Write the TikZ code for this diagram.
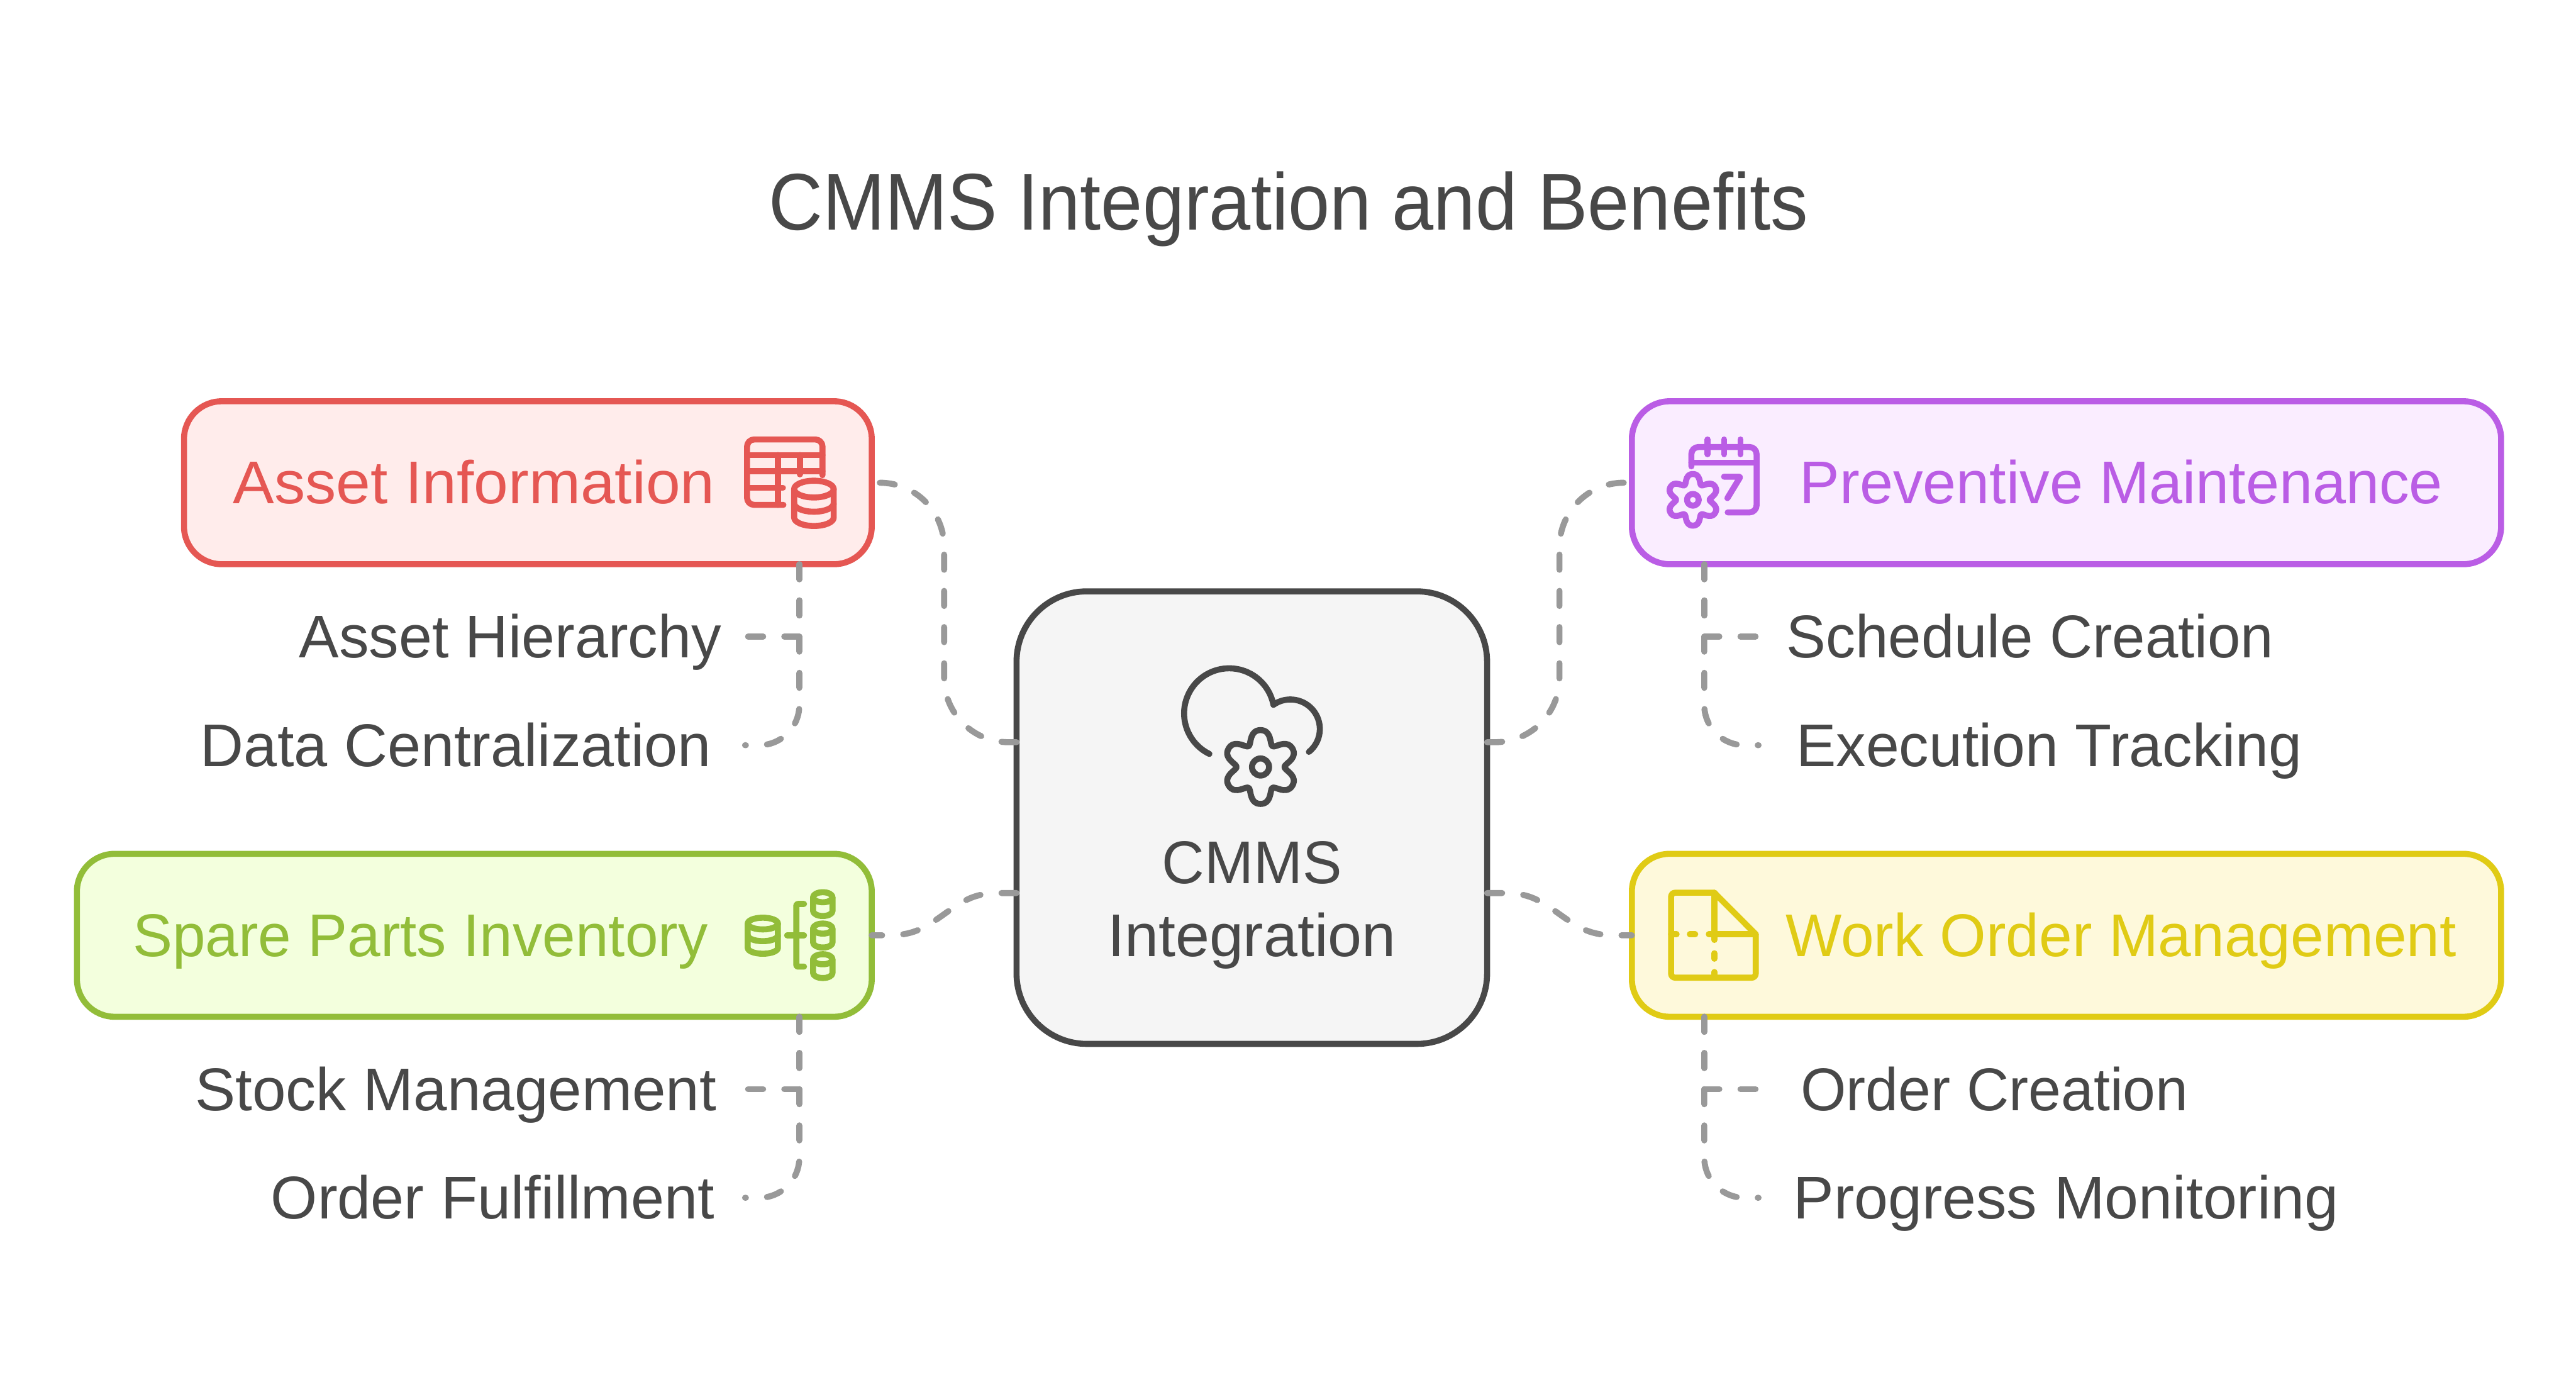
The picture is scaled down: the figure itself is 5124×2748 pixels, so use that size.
\documentclass[tikz,border=0pt]{standalone}
\usepackage{fontspec}
\usepackage{graphicx}
\setmainfont{Liberation Sans}
\definecolor{ink}{HTML}{484848}
\definecolor{dashgray}{HTML}{999999}
\definecolor{redS}{HTML}{E55753}
\definecolor{redF}{HTML}{FFECEB}
\definecolor{purS}{HTML}{BA5DE5}
\definecolor{purF}{HTML}{FAEDFF}
\definecolor{grnS}{HTML}{92BD39}
\definecolor{grnF}{HTML}{F3FFDD}
\definecolor{ylwS}{HTML}{E0CB15}
\definecolor{ylwF}{HTML}{FEF9DB}
\definecolor{cenF}{HTML}{F5F5F5}
\newcommand\tw[2]{\resizebox{#1pt}{\height}{#2}}
\newcommand\gearicon[3]{%
  \draw plot[smooth cycle,samples=120,domain=0:357,variable=\t]
    ({#1+#3*(131.5-27*cos(6*\t)-4.5*cos(12*\t))*cos(\t)},{#2+#3*(131.5-27*cos(6*\t)-4.5*cos(12*\t))*sin(\t)});}
\newcommand\cyl[6]{% cx, top centre y, rx, ry, bowl ys (list), body end
  \draw (#1,#2) ellipse [x radius=#3,y radius=#4];
  \draw ({#1-#3},#2) -- ({#1-#3},#6) arc[start angle=180,end angle=0,x radius=#3,y radius=#4] -- ({#1+#3},#2);
  \foreach \yy in {#5} {\draw ({#1-#3},\yy) arc[start angle=180,end angle=0,x radius=#3,y radius=#4];}
}
\tikzset{
  boxnode/.style={draw,rectangle,rounded corners=75pt,line width=12pt,inner sep=0pt,outer sep=0pt,minimum height=324pt},
  conn/.style={draw=dashgray,line width=12pt,line cap=round,dash pattern=on 30pt off 42pt},
  lbl/.style={anchor=base west,inner sep=0pt,outer sep=0pt,font=\fontsize{120}{144}\selectfont},
  iconline/.style={line width=12pt,line cap=round,line join=round},
  zoomunits/.style={x=0.33333pt,y=-0.33333pt}
}
\begin{document}
\begin{tikzpicture}[x=1pt,y=-1pt]
\useasboundingbox[fill=white] (0,0) rectangle (5124,2748);

\node[lbl,text=ink,font=\fontsize{160}{192}\selectfont] (title) at (1529,457) {\tw{2068}{CMMS Integration and Benefits}};

% boxes
\node[boxnode,draw=redS,fill=redF,minimum width=1368pt] (asset) at (1050,960) {};
\node[boxnode,draw=purS,fill=purF,minimum width=1729pt] (prev) at (4110.5,960) {};
\node[boxnode,draw=grnS,fill=grnF,minimum width=1581pt] (spare) at (943.5,1860) {};
\node[boxnode,draw=ylwS,fill=ylwF,minimum width=1729pt] (work) at (4110.5,1860) {};
\node[draw=ink,fill=cenF,rectangle,rounded corners=140pt,line width=12pt,inner sep=0pt,outer sep=0pt,minimum width=936pt,minimum height=900pt] (cms) at (2490,1626) {};

% box labels
\node[lbl,text=redS] (assetT) at (464,1002) {\tw{958}{Asset Information}};
\node[lbl,text=purS] (prevT) at (3580,1002) {\tw{1279}{Preventive Maintenance}};
\node[lbl,text=grnS] (spareT) at (264,1902) {\tw{1144}{Spare Parts Inventory}};
\node[lbl,text=ylwS] (workT) at (3552,1902) {\tw{1334}{Work Order Management}};
\node[inner sep=0pt,outer sep=0pt,align=center,text=ink,font=\fontsize{120}{146}\selectfont] (cmsT) at (2490,1800) {\tw{358}{CMMS}\\\tw{574}{Integration}};

% item labels
\node[lbl,text=ink] (a1) at (595,1308) {\tw{840}{Asset Hierarchy}};
\node[lbl,text=ink] (a2) at (399,1524) {\tw{1016}{Data Centralization}};
\node[lbl,text=ink] (s1) at (388,2208) {\tw{1037}{Stock Management}};
\node[lbl,text=ink] (s2) at (539,2424) {\tw{882}{Order Fulfillment}};
\node[lbl,text=ink] (p1) at (3553,1308) {\tw{970}{Schedule Creation}};
\node[lbl,text=ink] (p2) at (3573,1524) {\tw{1006}{Execution Tracking}};
\node[lbl,text=ink] (w1) at (3582,2208) {\tw{771}{Order Creation}};
\node[lbl,text=ink] (w2) at (3567,2424) {\tw{1085}{Progress Monitoring}};

% connector helpers
\coordinate (yUp) at (0,1476);
\coordinate (yLow) at (0,1776);
\coordinate (busL) at (1878,0);
\coordinate (busR) at (3102,0);
\coordinate (trunkL) at (1590,0);
\coordinate (trunkR) at (3390,0);
\coordinate (endA1) at (1482,1266);
\coordinate (endA2) at (1482,1482);
\coordinate (endS1) at (1482,2166);
\coordinate (endS2) at (1482,2382);
\coordinate (endP1) at (3498,1266);
\coordinate (endP2) at (3498,1482);
\coordinate (endW1) at (3498,2166);
\coordinate (endW2) at (3498,2382);
\coordinate (midL) at (1878,1818);
\coordinate (midR) at (3102,1818);

% main connectors
\draw[conn,rounded corners=128pt] (cms.west |- yUp) -| (busL |- asset.east) -- (asset.east);
\draw[conn,rounded corners=128pt] (cms.east |- yUp) -| (busR |- prev.west) -- (prev.west);
\draw[conn] (cms.west |- yLow) -- (1990,1776) .. controls (1940,1776) and (1920,1788) .. (midL) .. controls (1836,1848) and (1815,1860) .. (1766,1860) -- (spare.east);
\draw[conn] (cms.east |- yLow) -- (2990,1776) .. controls (3040,1776) and (3060,1788) .. (midR) .. controls (3144,1848) and (3165,1860) .. (3214,1860) -- (work.west);

% item connectors
\draw[conn] (asset.south -| trunkL) |- (endA1);
\draw[conn,rounded corners=80pt] (asset.south -| trunkL) |- (endA2);
\draw[conn] (spare.south -| trunkL) |- (endS1);
\draw[conn,rounded corners=80pt] (spare.south -| trunkL) |- (endS2);
\draw[conn] (prev.south -| trunkR) |- (endP1);
\draw[conn,rounded corners=80pt] (prev.south -| trunkR) |- (endP2);
\draw[conn] (work.south -| trunkR) |- (endW1);
\draw[conn,rounded corners=80pt] (work.south -| trunkR) |- (endW2);

% icon: table and database
\begin{scope}[shift={(1420,820)},zoomunits,iconline,draw=redS]
  \draw[rounded corners=14pt] (415,552) -- (198,552) -- (198,162) -- (648,162) -- (648,375);
  \draw (198,255) -- (648,255);
  \draw (198,352) -- (648,352);
  \draw (198,450) -- (412,450);
  \draw (382,255) -- (382,552);
  \draw (513,255) -- (513,370);
  \cyl{597}{458}{118}{50}{543}{628}
\end{scope}

% icon: calendar and gear
\begin{scope}[shift={(3270,820)},zoomunits,iconline,draw=purS]
  \draw[rounded corners=14pt] (283,322) -- (283,207) -- (672,207) -- (672,597) -- (500,597);
  \draw (283,300) -- (672,300);
  \foreach \xx in {380,478,576} {\draw (\xx,162) -- (\xx,250);}
  \draw[rounded corners=3pt] (478,384) -- (576,384) -- (498,512);
  \gearicon{292}{522}{1}
  \draw (292,522) circle [radius=35];
\end{scope}

% icon: inventory tree
\begin{scope}[shift={(1440,1740)},zoomunits,iconline,draw=grnS]
  \cyl{232}{290}{90}{35}{360}{435}
  \cyl{590}{133}{58}{30}{}{215}
  \cyl{590}{320}{58}{30}{}{403}
  \cyl{590}{503}{58}{30}{}{585}
  \draw[rounded corners=3pt] (478,173) -- (432,173) -- (432,547) -- (478,547);
  \draw (377,360) -- (478,360);
\end{scope}

% icon: folded document
\begin{scope}[shift={(3270,1740)},zoomunits,iconline,draw=ylwS]
  \draw (420,106) -- (186,106) [rounded corners=8pt] -- (162,106) -- (162,613) -- (667,613) [sharp corners] -- (667,354) -- cycle;
  \draw (420,106) -- (420,354) -- (667,354);
  \draw (162,354) -- (195,354);
  \draw (274,354) -- (306,354);
  \draw (387,354) -- (420,354);
  \draw (420,354) -- (420,388);
  \draw (420,467) -- (420,500);
  \draw (420,579) -- (420,613);
\end{scope}

% icon: cloud and gear
\begin{scope}[shift={(2290,1290)},zoomunits,iconline,draw=ink]
  \draw (347,628) arc[start angle=116,end angle=349,radius=269] arc[start angle=235,end angle=411,radius=176];
  \gearicon{652}{706}{1.43}
  \draw (652,706) circle [radius=51];
\end{scope}
\end{tikzpicture}
\end{document}
